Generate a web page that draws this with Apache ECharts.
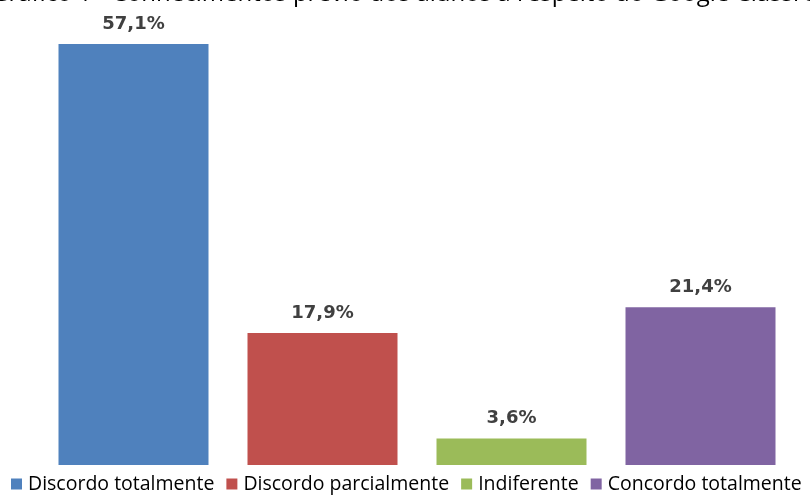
<!DOCTYPE html>
<html>
<head>
<meta charset="utf-8">
<script src="https://cdn.jsdelivr.net/npm/echarts@6/dist/echarts.min.js"></script>
<style>
  html, body { margin: 0; padding: 0; background: #fff; }
  #chart { width: 810px; height: 497px; }
</style>
</head>
<body>
<div id="chart"></div>
<script>
const titleText = 'Gráfico 1 - Conhecimentos prévio dos alunos a respeito do Google Classroom'
const categories = ['Discordo totalmente', 'Discordo parcialmente', 'Indiferente', 'Concordo totalmente']
const percentages = [57.1, 17.9, 3.6, 21.4]
const colors = ['#4f81bd', '#c0504d', '#9bbb59', '#8064a2']

const chart = echarts.init(document.getElementById('chart'))

// one series per category so the legend lists each of them
const series = categories.map((name, i) => ({
  name,
  type: 'bar',
  stack: 'all',
  barWidth: 150,
  data: categories.map((_, j) => (j === i ? percentages[i] : '-')),
  itemStyle: { color: colors[i] },
  label: {
    show: true,
    position: 'top',
    distance: 11,
    color: '#404040',
    fontFamily: 'DejaVu Sans',
    fontWeight: 'bold',
    fontSize: 18,
    formatter: (p) => p.value.toFixed(1).replace('.', ',') + '%'
  }
}))

chart.setOption({
  animation: false,
  title: {
    text: titleText,
    left: -14,
    top: -23,
    textStyle: { fontFamily: 'Open Sans', fontWeight: 'normal', fontSize: 24, color: '#000' }
  },
  legend: {
    bottom: 3,
    left: 11,
    width: 900,
    padding: 0,
    itemWidth: 11,
    itemHeight: 11,
    itemGap: 12,
    icon: 'rect',
    textStyle: { fontFamily: 'Open Sans', fontSize: 19.5, color: '#000', padding: [0, 0, 0, 1] }
  },
  grid: { left: 39, right: 15, top: 44, bottom: 32 },
  xAxis: {
    type: 'category',
    data: categories,
    axisLine: { show: false },
    axisTick: { show: false },
    axisLabel: { show: false }
  },
  yAxis: {
    type: 'value',
    min: 0,
    max: 57.1,
    show: false,
    splitLine: { show: false }
  },
  series
})
</script>
</body>
</html>
